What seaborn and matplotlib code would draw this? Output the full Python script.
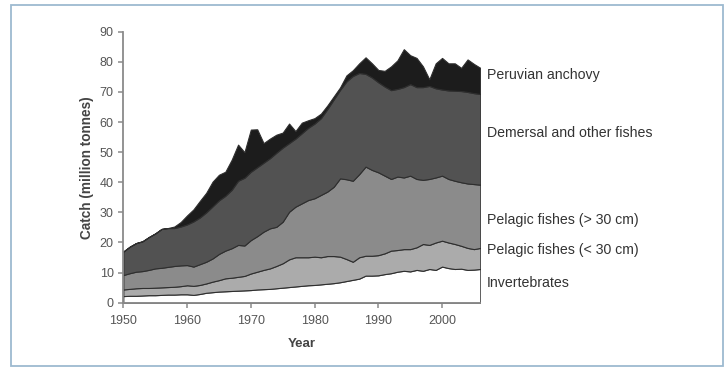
import numpy as np
import pandas as pd
import matplotlib
matplotlib.use("Agg")
import matplotlib.pyplot as plt
import seaborn as sns
from matplotlib.patches import Rectangle

# Global marine catch by group, million tonnes
years = list(range(1950, 2007))

invertebrates = [2.2, 2.3, 2.3, 2.4, 2.5, 2.5, 2.6, 2.7, 2.7, 2.8,
                 2.8, 2.6, 2.9, 3.3, 3.5, 3.7, 3.8, 3.9, 4.0, 4.1,
                 4.2, 4.4, 4.5, 4.6, 4.8, 5.0, 5.2, 5.4, 5.6, 5.8,
                 5.9, 6.1, 6.3, 6.5, 6.8, 7.2, 7.6, 8.0, 9.0, 9.0,
                 9.1, 9.5, 9.8, 10.3, 10.6, 10.4, 10.9, 10.6, 11.2, 10.9,
                 12.0, 11.5, 11.2, 11.3, 10.9, 11.0, 11.2]

pelagic_small = [2.2, 2.3, 2.5, 2.5, 2.4, 2.5, 2.5, 2.5, 2.6, 2.7,
                 3.0, 3.0, 3.0, 3.1, 3.5, 3.8, 4.3, 4.4, 4.6, 4.8,
                 5.5, 5.9, 6.4, 6.8, 7.4, 8.1, 9.2, 9.7, 9.5, 9.3,
                 9.4, 9.0, 9.2, 9.0, 8.5, 7.3, 6.0, 7.1, 6.6, 6.6,
                 6.7, 6.9, 7.5, 7.2, 7.2, 7.4, 7.5, 8.9, 8.0, 9.1,
                 8.6, 8.5, 8.3, 7.6, 7.3, 6.8, 7.0]

pelagic_large = [4.8, 5.2, 5.5, 5.6, 6.0, 6.4, 6.5, 6.7, 6.9, 6.9,
                 6.7, 6.4, 6.9, 7.2, 7.7, 8.7, 9.2, 9.8, 10.6, 10.1,
                 11.1, 11.8, 12.7, 13.3, 13.0, 13.8, 15.8, 16.8, 17.9, 19.0,
                 19.4, 20.7, 21.4, 23.0, 26.0, 26.5, 26.9, 27.6, 29.6, 28.5,
                 27.5, 25.8, 23.8, 24.4, 23.8, 24.4, 22.7, 21.3, 21.9, 21.6,
                 21.6, 21.1, 21.0, 21.1, 21.4, 21.6, 21.0]

demersal = [7.8, 8.8, 9.5, 9.9, 10.9, 11.6, 12.9, 12.9, 12.6, 12.9,
            13.5, 15.0, 15.5, 16.4, 17.3, 17.8, 18.2, 19.4, 21.3, 22.5,
            22.7, 22.9, 22.9, 23.3, 24.6, 24.6, 22.8, 22.6, 23.3, 24.0,
            24.8, 25.5, 27.4, 29.0, 29.4, 32.5, 34.8, 33.6, 30.8, 30.7,
            29.9, 29.6, 29.5, 29.1, 30.0, 30.4, 30.5, 30.8, 30.9, 29.6,
            28.6, 29.4, 29.9, 30.3, 30.4, 30.2, 30.1]

anchovy = [0.0, 0.0, 0.0, 0.0, 0.0, 0.0, 0.0, 0.0, 0.5, 1.5,
           3.0, 4.0, 5.5, 6.5, 8.2, 8.5, 8.0, 10.0, 12.0, 8.5,
           14.0, 12.6, 6.5, 6.5, 6.0, 5.0, 6.5, 2.5, 3.5, 2.5,
           1.8, 1.5, 1.2, 1.0, 0.8, 2.0, 1.9, 3.2, 5.5, 4.7,
           4.1, 5.2, 7.9, 9.5, 12.6, 9.6, 9.7, 6.9, 2.2, 8.3,
           10.5, 9.0, 9.1, 7.7, 10.8, 9.7, 8.7]

groups = ["Invertebrates", "Pelagic fishes (< 30 cm)", "Pelagic fishes (> 30 cm)",
          "Demersal and other fishes", "Peruvian anchovy"]

df = pd.DataFrame({
    "Year": years,
    groups[0]: invertebrates,
    groups[1]: pelagic_small,
    groups[2]: pelagic_large,
    groups[3]: demersal,
    groups[4]: anchovy,
})

sns.set_theme(style="white")
plt.rcParams["font.family"] = ["Liberation Sans", "DejaVu Sans"]

fig = plt.figure(figsize=(7.25, 3.68), dpi=100)
ax = fig.add_axes([0.1701, 0.1774, 0.4924, 0.7364])

fills = ["#ffffff", "#ababab", "#8b8b8b", "#525252", "#1c1c1c"]
ax.stackplot(df["Year"], *[df[g] for g in groups], colors=fills,
             edgecolor="#2e2e2e", linewidth=0.8)

# Group names beside the right edge, level with each band
label_levels = {
    "Peruvian anchovy": 75.6,
    "Demersal and other fishes": 56.3,
    "Pelagic fishes (> 30 cm)": 27.5,
    "Pelagic fishes (< 30 cm)": 17.5,
    "Invertebrates": 6.4,
}
for name, lvl in label_levels.items():
    ax.text(2007.0, lvl, name, fontsize=10.2, color="#333333",
            ha="left", va="center", clip_on=False)

ax.set_xlim(1950, 2006)
ax.set_ylim(0, 90)
ax.set_xticks(range(1950, 2001, 10))
ax.set_yticks(range(0, 91, 10))

for side in ("top", "right"):
    ax.spines[side].set_visible(False)
for side in ("left", "bottom"):
    ax.spines[side].set_color("#8a8a8a")
    ax.spines[side].set_linewidth(1.3)

ax.tick_params(axis="both", which="major", bottom=True, left=True,
               direction="out", length=3.5, width=1.1, color="#8a8a8a",
               labelsize=9, labelcolor="#555555")
ax.tick_params(axis="x", pad=5.5)
ax.tick_params(axis="y", pad=3.5)

ax.set_xlabel("Year", fontsize=9.5, fontweight="bold", color="#444444", labelpad=8)
ax.set_ylabel("Catch (million tonnes)", fontsize=9.8, fontweight="bold",
              color="#444444", labelpad=4)

fig.patches.append(Rectangle((11 / 725, 2 / 368), 712 / 725, 361 / 368,
                             transform=fig.transFigure, fill=False,
                             edgecolor="#9dbad0", linewidth=1.3))

fig.savefig("out.png", dpi=100)
